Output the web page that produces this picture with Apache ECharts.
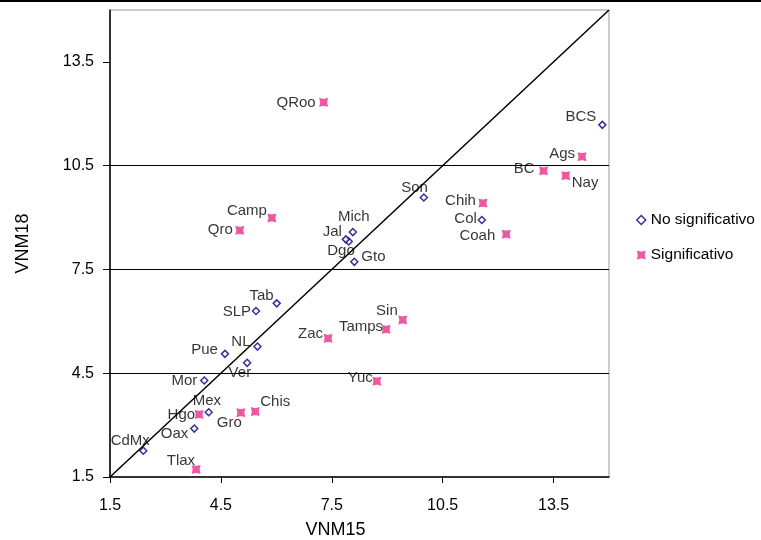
<!DOCTYPE html>
<html>
<head>
<meta charset="utf-8">
<script src="https://cdn.jsdelivr.net/npm/echarts@6/dist/echarts.min.js"></script>
<style>html,body{margin:0;padding:0;background:#fff;}#chart{width:761px;height:540px;}</style>
</head>
<body>
<div id="chart"></div>
<script>
// ---- data ----
const tickValues = [1.5, 4.5, 7.5, 10.5, 13.5];
const axisMin = 1.5, axisMax = 15;
const identityLine = [1.5, 15];

const noSigNames = ['CdMx','Oax','Mex','Mor','Pue','Ver','NL','SLP','Tab','Gto','Dgo','Jal','Mich','Son','Col','BCS'];
const noSigX = [2.40, 3.78, 4.17, 4.05, 4.61, 5.21, 5.49, 5.45, 6.01, 8.11, 7.96, 7.88, 8.07, 9.99, 11.56, 14.82];
const noSigY = [2.26, 2.90, 3.37, 4.29, 5.06, 4.80, 5.27, 6.30, 6.52, 7.72, 8.31, 8.37, 8.58, 9.58, 8.93, 11.68];

const sigNames = ['Tlax','Hgo','Gro','Chis','Yuc','Zac','Tamps','Sin','QRoo','Camp','Qro','Chih','Coah','BC','Nay','Ags'];
const sigX = [3.83, 3.91, 5.04, 5.43, 8.72, 7.40, 8.97, 9.42, 7.28, 5.88, 5.01, 11.59, 12.22, 13.23, 13.83, 14.27];
const sigY = [1.72, 3.31, 3.36, 3.39, 4.27, 5.51, 5.77, 6.04, 12.33, 8.99, 8.63, 9.42, 8.52, 10.35, 10.21, 10.76];

// ---- label layout (styling only) ----
const labelPlace = {
  CdMx:['center',-13,-10], Oax:['right',-6,5], Mex:['left',-16,-11], Mor:['right',-7,0],
  Pue:['right',-7,-4], Ver:['right',4,10], NL:['right',-7,-5], SLP:['right',-5,1],
  Tab:['right',-3,-7], Gto:['left',7,-5], Dgo:['right',6,9], Jal:['right',-4,-7],
  Mich:['center',1,-15], Son:['right',4,-10], Col:['right',-5,-1], BCS:['right',-6,-8],
  Tlax:['right',-1,-9], Hgo:['right',-4,0], Gro:['right',1,10], Chis:['left',5,-10],
  Yuc:['right',-4,-3], Zac:['right',-5,-4], Tamps:['right',-3,-2], Sin:['right',-5,-9],
  QRoo:['right',-8,0], Camp:['right',-5,-7], Qro:['right',-7,0], Chih:['right',-7,-2],
  Coah:['right',-11,2], BC:['right',-9,-2], Nay:['left',6,7], Ags:['right',-7,-3]
};

const FONT = '"Liberation Sans", Arial, sans-serif';
const BLUE = '#000080';
const PINK = '#E8308A';
const xSymbol = 'path://M0,0 L4,1 L6,1 L10,0 L9,4 L9,6 L10,10 L6,9 L4,9 L0,10 L1,6 L1,4 Z';

function buildPoints(names, xs, ys) {
  return names.map((n, i) => {
    const p = labelPlace[n];
    return {
      name: n,
      value: [xs[i], ys[i]],
      label: { show: true, formatter: n, position: 'inside', align: p[0], verticalAlign: 'middle', offset: [p[1], p[2]],
               color: '#000', fontFamily: FONT, fontSize: 15, textBorderWidth: 0 }
    };
  });
}

const chart = echarts.init(document.getElementById('chart'), null, { renderer: 'canvas' });
chart.setOption({
  animation: false,
  backgroundColor: '#fff',
  textStyle: { fontFamily: FONT },
  grid: { left: 110, right: 152, top: 10, bottom: 63, containLabel: false, outerBoundsMode: 'none',
          show: true, borderColor: '#999', borderWidth: 1, backgroundColor: 'transparent' },
  graphic: [{ type: 'line', shape: { x1: 0, y1: 1, x2: 761, y2: 1 }, style: { stroke: '#000', lineWidth: 2 }, z: 100 }],
  legend: {
    orient: 'vertical', left: 636, top: 212, padding: 0, itemWidth: 9, itemHeight: 9, itemGap: 19,
    textStyle: { fontFamily: FONT, fontSize: 15.5, color: '#000' },
    data: [
      { name: 'No significativo', icon: 'diamond', itemStyle: { color: '#fff', borderColor: BLUE, borderWidth: 1.5 } },
      { name: 'Significativo', icon: xSymbol, itemStyle: { color: PINK } }
    ]
  },
  xAxis: {
    type: 'value', min: axisMin, max: axisMax, interval: 3,
    name: 'VNM15', nameLocation: 'middle', nameGap: 44,
    nameTextStyle: { fontFamily: FONT, fontSize: 18, color: '#000', padding: [0, 48, 0, 0] },
    axisLine: { show: true, onZero: false, lineStyle: { color: '#000', width: 1.5 } },
    axisTick: { show: true, length: 6, lineStyle: { color: '#000' }, customValues: tickValues },
    axisLabel: { fontFamily: FONT, fontSize: 16, color: '#000', margin: 21, customValues: tickValues, formatter: v => String(v) },
    splitLine: { show: false }
  },
  yAxis: {
    type: 'value', min: axisMin, max: axisMax, interval: 3,
    name: 'VNM18', nameLocation: 'middle', nameGap: 78, nameRotate: 90,
    nameTextStyle: { fontFamily: FONT, fontSize: 18, color: '#000' },
    axisLine: { show: true, onZero: false, lineStyle: { color: '#000', width: 1.5 } },
    axisTick: { show: true, length: 7, lineStyle: { color: '#000' }, customValues: tickValues },
    axisLabel: { fontFamily: FONT, fontSize: 16, color: '#000', margin: 16, customValues: tickValues, formatter: v => String(v) },
    splitLine: { show: true, showMinLine: false, showMaxLine: false, lineStyle: { color: '#000', width: 1.2 } }
  },
  series: [
    {
      type: 'line', silent: true, showSymbol: false, symbol: 'none',
      data: [[identityLine[0], identityLine[0]], [identityLine[1], identityLine[1]]],
      lineStyle: { color: '#000', width: 1.5 }, z: 3
    },
    {
      name: 'No significativo', type: 'scatter', symbol: 'diamond', symbolSize: 7,
      itemStyle: { color: '#fff', borderColor: BLUE, borderWidth: 1.5 },
      z: 5,
      data: buildPoints(noSigNames, noSigX, noSigY)
    },
    {
      name: 'Significativo', type: 'scatter', symbol: xSymbol, symbolSize: 9,
      itemStyle: { color: PINK },
      z: 5,
      data: buildPoints(sigNames, sigX, sigY)
    }
  ]
});
</script>
</body>
</html>
